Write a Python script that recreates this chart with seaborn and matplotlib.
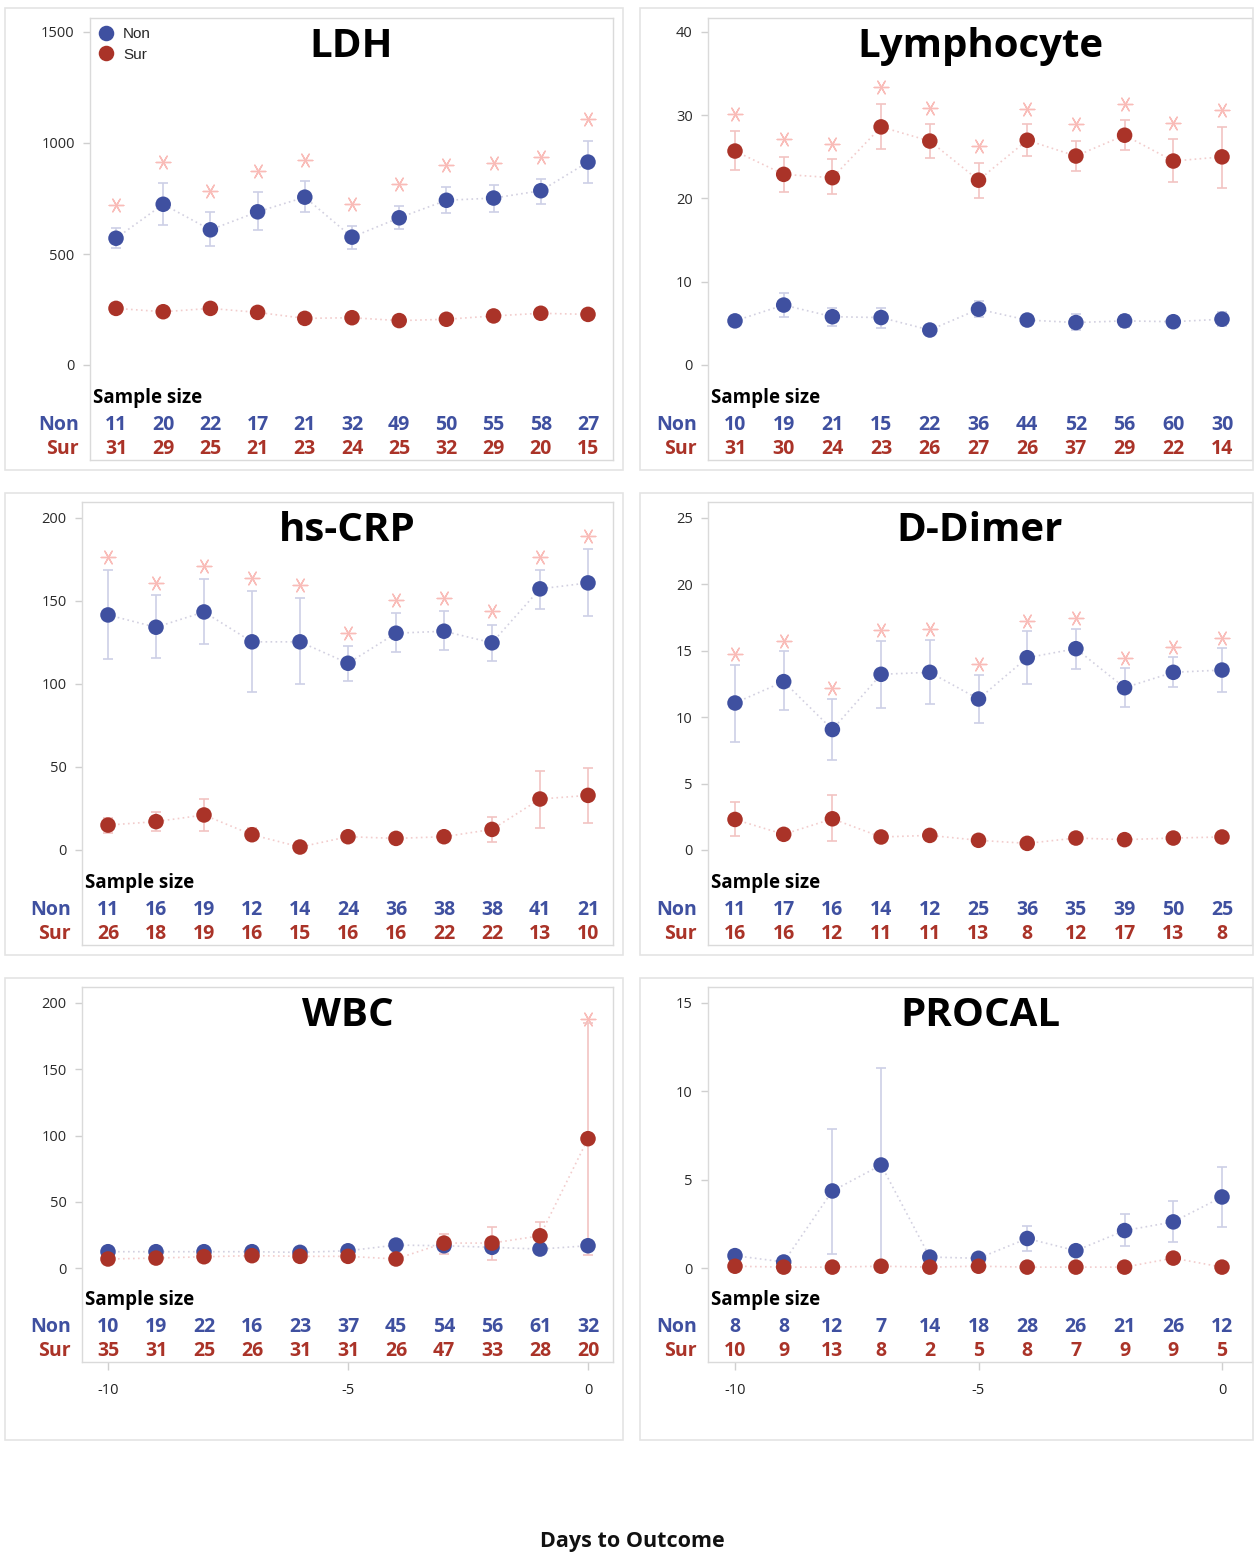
import matplotlib
matplotlib.use("Agg")
import matplotlib.pyplot as plt
from matplotlib.patches import Rectangle
import matplotlib.transforms as mtransforms
import numpy as np
import pandas as pd
import seaborn as sns

days = list(range(-10, 1))
nan = np.nan

# LDH
ldh_non = [571, 724, 609, 690, 756, 576, 663, 742, 752, 785, 914]
ldh_non_lo = [526, 631, 534, 606, 688, 523, 613, 684, 691, 727, 818]
ldh_non_hi = [619, 819, 688, 779, 827, 624, 716, 803, 810, 839, 1010]
ldh_sur = [255, 240, 255, 237, 210, 213, 200, 206, 221, 233, 228]
ldh_sur_lo = [240, 226, 240, 223, 197, 200, 188, 194, 208, 220, 214]
ldh_sur_hi = [270, 254, 270, 251, 223, 226, 212, 218, 234, 246, 242]
ldh_star = [721, 914, 786, 876, 924, 726, 816, 902, 909, 939, 1109]
ldh_n_non = [11, 20, 22, 17, 21, 32, 49, 50, 55, 58, 27]
ldh_n_sur = [31, 29, 25, 21, 23, 24, 25, 32, 29, 20, 15]

# Lymphocyte
lym_non = [5.3, 7.2, 5.8, 5.7, 4.2, 6.7, 5.4, 5.1, 5.3, 5.2, 5.5]
lym_non_lo = [4.7, 5.8, 4.7, 4.4, 3.7, 5.8, 4.8, 4.2, 4.6, 4.6, 4.7]
lym_non_hi = [5.9, 8.7, 6.9, 6.9, 4.7, 7.7, 6.0, 6.1, 6.0, 5.8, 6.4]
lym_sur = [25.7, 22.9, 22.5, 28.6, 26.9, 22.2, 27.0, 25.1, 27.6, 24.5, 25.0]
lym_sur_lo = [23.4, 20.8, 20.5, 26.0, 24.9, 20.1, 25.1, 23.3, 25.8, 22.0, 21.3]
lym_sur_hi = [28.1, 25.0, 24.7, 31.4, 28.9, 24.3, 28.9, 26.9, 29.4, 27.2, 28.6]
lym_star = [30.1, 27.1, 26.6, 33.4, 30.9, 26.3, 30.8, 28.9, 31.4, 29.1, 30.6]
lym_n_non = [10, 19, 21, 15, 22, 36, 44, 52, 56, 60, 30]
lym_n_sur = [31, 30, 24, 23, 26, 27, 26, 37, 29, 22, 14]

# hs-CRP
crp_non = [141.6, 134.2, 143.4, 125.4, 125.4, 112.5, 130.6, 131.8, 124.8, 157.3, 160.9]
crp_non_lo = [114.9, 115.5, 123.8, 95.3, 99.7, 102.1, 119.2, 120.2, 114.1, 145.0, 140.8]
crp_non_hi = [168.5, 153.5, 163.3, 155.9, 151.7, 123.0, 142.8, 143.8, 135.8, 168.7, 181.2]
crp_sur = [15.0, 17.1, 21.1, 9.2, 1.8, 8.0, 7.0, 8.0, 12.4, 30.7, 32.9]
crp_sur_lo = [10.4, 11.2, 11.2, 5.8, 0.5, 5.5, 4.5, 5.5, 5.0, 13.4, 16.4]
crp_sur_hi = [19.5, 22.9, 30.5, 13.4, 3.0, 10.5, 9.5, 10.5, 19.9, 47.5, 49.3]
crp_star = [176.3, 161.1, 171.1, 163.7, 159.5, 131.0, 150.5, 151.7, 143.8, 176.7, 189.2]
crp_n_non = [11, 16, 19, 12, 14, 24, 36, 38, 38, 41, 21]
crp_n_sur = [26, 18, 19, 16, 15, 16, 16, 22, 22, 13, 10]

# D-Dimer
dd_non = [11.07, 12.68, 9.07, 13.23, 13.38, 11.37, 14.48, 15.16, 12.22, 13.38, 13.55]
dd_non_lo = [8.14, 10.52, 6.74, 10.72, 10.97, 9.57, 12.53, 13.65, 10.77, 12.27, 11.87]
dd_non_hi = [13.95, 14.96, 11.40, 15.76, 15.83, 13.20, 16.48, 16.66, 13.73, 14.55, 15.18]
dd_sur = [2.30, 1.18, 2.35, 0.98, 1.10, 0.73, 0.50, 0.90, 0.78, 0.90, 0.98]
dd_sur_lo = [1.05, 0.90, 0.65, 0.80, 0.90, 0.55, 0.35, 0.70, 0.60, 0.70, 0.80]
dd_sur_hi = [3.58, 1.45, 4.11, 1.20, 1.30, 0.95, 0.65, 1.10, 0.95, 1.10, 1.20]
dd_star = [14.75, 15.73, 12.22, 16.53, 16.61, 13.98, 17.23, 17.46, 14.45, 15.28, 15.98]
dd_n_non = [11, 17, 16, 14, 12, 25, 36, 35, 39, 50, 25]
dd_n_sur = [16, 16, 12, 11, 11, 13, 8, 12, 17, 13, 8]

# WBC
wbc_non = [12.3, 12.3, 12.3, 12.3, 11.8, 13.0, 17.3, 16.8, 15.6, 14.3, 16.8]
wbc_non_lo = [10.5, 10.8, 10.8, 10.8, 10.3, 11.3, 15.3, 14.8, 13.6, 12.5, 14.5]
wbc_non_hi = [14.1, 13.8, 13.8, 13.8, 13.3, 14.7, 19.3, 18.8, 17.6, 16.1, 19.1]
wbc_sur = [6.8, 7.5, 8.5, 9.3, 8.8, 8.8, 6.8, 18.8, 18.8, 24.3, 97.6]
wbc_sur_lo = [5.5, 6.3, 7.0, 7.8, 7.4, 7.3, 5.6, 10.5, 6.3, 16.8, 10.0]
wbc_sur_hi = [8.1, 8.7, 10.0, 10.8, 10.2, 10.3, 8.0, 25.6, 31.1, 34.9, 185.0]
wbc_star = [nan, nan, nan, nan, nan, nan, nan, nan, nan, nan, 188]
wbc_n_non = [10, 19, 22, 16, 23, 37, 45, 54, 56, 61, 32]
wbc_n_sur = [35, 31, 25, 26, 31, 31, 26, 47, 33, 28, 20]

# PROCAL
pct_non = [0.70, 0.34, 4.36, 5.83, 0.62, 0.55, 1.67, 0.98, 2.12, 2.61, 4.02]
pct_non_lo = [0.55, 0.22, 0.81, 0.20, 0.48, 0.42, 0.98, 0.80, 1.22, 1.50, 2.31]
pct_non_hi = [0.85, 0.46, 7.89, 11.32, 0.76, 0.68, 2.39, 1.16, 3.05, 3.82, 5.73]
pct_sur = [0.10, 0.05, 0.05, 0.10, 0.05, 0.10, 0.05, 0.05, 0.05, 0.56, 0.05]
pct_sur_lo = [0.05, 0.02, 0.02, 0.05, 0.02, 0.05, 0.02, 0.02, 0.02, 0.30, 0.02]
pct_sur_hi = [0.15, 0.08, 0.08, 0.15, 0.08, 0.15, 0.08, 0.08, 0.08, 0.82, 0.08]
pct_star = [nan] * 11
pct_n_non = [8, 8, 12, 7, 14, 18, 28, 26, 21, 26, 12]
pct_n_sur = [10, 9, 13, 8, 2, 5, 8, 7, 9, 9, 5]

BLUE = "#3f50a0"
RED = "#aa3328"
BLUE_ERR = "#cdd0e6"
RED_ERR = "#f2c4c2"
BLUE_LINE = "#d2d0e0"
RED_LINE = "#f2cccc"
STAR = "#f9bcb8"

W, H = 1255, 1558

sns.set_theme(style="white")
plt.rcParams['font.family'] = ['Open Sans', 'DejaVu Sans']

fig = plt.figure(figsize=(W / 100, H / 100), dpi=100)
fig.patch.set_facecolor("white")


def draw_panel(title, outer, frame, y0px, ytoppx, ymax, ystep, xm10px, x0px,
               non, non_lo, non_hi, sur, sur_lo, sur_hi, star, n_non, n_sur,
               legend=False, xaxis=False):
    # outer light panel border
    ox0, oy0, ox1, oy1 = outer
    fig.patches.append(Rectangle((ox0 / W, 1 - oy1 / H), (ox1 - ox0) / W, (oy1 - oy0) / H,
                                 transform=fig.transFigure, fill=False,
                                 edgecolor="#e4e4e4", lw=1.2))
    fx0, fy0, fx1, fy1 = frame
    fw, fh = fx1 - fx0, fy1 - fy0
    ax = fig.add_axes([fx0 / W, 1 - fy1 / H, fw / W, fh / H])

    sy = (y0px - ytoppx) / ymax
    ax.set_ylim(-(fy1 - y0px) / sy, ymax + (ytoppx - fy0) / sy)
    sx = (x0px - xm10px) / 10
    ax.set_xlim(-10 - (xm10px - fx0) / sx, (fx1 - x0px) / sx)

    # dotted connecting lines
    sns.lineplot(x=days, y=non, ax=ax, color=BLUE_LINE, linestyle=(0, (1, 2)), lw=1.2)
    sns.lineplot(x=days, y=sur, ax=ax, color=RED_LINE, linestyle=(0, (1, 2)), lw=1.2)

    non_a, sur_a = np.array(non), np.array(sur)
    ax.errorbar(days, non_a, yerr=[non_a - np.array(non_lo), np.array(non_hi) - non_a],
                fmt="none", ecolor=BLUE_ERR, elinewidth=1.2, capsize=3.7, capthick=1.2)
    ax.errorbar(days, sur_a, yerr=[sur_a - np.array(sur_lo), np.array(sur_hi) - sur_a],
                fmt="none", ecolor=RED_ERR, elinewidth=1.2, capsize=3.7, capthick=1.2)

    sns.scatterplot(x=days, y=star, ax=ax, marker=(6, 2, 90), s=110,
                    color=STAR, linewidth=1.0, legend=False)

    df = pd.DataFrame({"day": days * 2, "value": list(non) + list(sur),
                       "group": ["Non"] * len(days) + ["Sur"] * len(days)})
    sns.scatterplot(data=df, x="day", y="value", hue="group",
                    palette={"Non": BLUE, "Sur": RED}, s=125, linewidth=0,
                    ax=ax, legend=legend, zorder=5)
    ax.set_xlabel("")
    ax.set_ylabel("")

    if legend:
        handles, labels = ax.get_legend_handles_labels()
        ax.legend(handles, labels, loc="upper left", bbox_to_anchor=(-0.02, 1.004),
                  frameon=False, prop={"family": "Liberation Sans", "size": 11},
                  handletextpad=0.15, labelspacing=0.45, borderaxespad=0.3,
                  markerscale=1.0)

    for sp in ax.spines.values():
        sp.set_color("#dadada")
        sp.set_linewidth(1.0)

    ax.set_yticks(np.arange(0, ymax + ystep / 2, ystep))
    ax.tick_params(axis="y", left=True, direction="out", length=5, width=1,
                   color="#cfcfcf", labelsize=10.5, labelcolor="#2a2a2a", pad=6)
    if xaxis:
        ax.set_xticks([-10, -5, 0])
        ax.set_xticklabels(["-10", "-5", "0"])
        ax.tick_params(axis="x", bottom=True, direction="out", length=6, width=1,
                       color="#cfcfcf", labelsize=10.5, labelcolor="#222222", pad=9)
    else:
        ax.set_xticks([])

    ax.text(0.5, 1 - 29 / fh, title, transform=ax.transAxes, ha="center", va="center",
            fontsize=29, fontweight="bold", color="black")

    trans = mtransforms.blended_transform_factory(ax.transData, ax.transAxes)
    ax.text(3 / fw, 62 / fh, "Sample size", transform=ax.transAxes, ha="left",
            va="center", fontsize=13.5, fontweight="bold", color="black")
    ax.text(-11 / fw, 35 / fh, "Non", transform=ax.transAxes, ha="right", va="center",
            fontsize=14, fontweight="bold", color=BLUE, clip_on=False)
    ax.text(-11 / fw, 11 / fh, "Sur", transform=ax.transAxes, ha="right", va="center",
            fontsize=14, fontweight="bold", color=RED, clip_on=False)
    for d, a, b in zip(days, n_non, n_sur):
        ax.text(d, 35 / fh, str(a), transform=trans, ha="center", va="center",
                fontsize=14, fontweight="bold", color=BLUE)
        ax.text(d, 11 / fh, str(b), transform=trans, ha="center", va="center",
                fontsize=14, fontweight="bold", color=RED)
    return ax


draw_panel("LDH", (5, 8, 623, 470), (90, 18, 613, 460), 365, 32, 1500, 500, 116, 588,
           ldh_non, ldh_non_lo, ldh_non_hi, ldh_sur, ldh_sur_lo, ldh_sur_hi, ldh_star,
           ldh_n_non, ldh_n_sur, legend=True)
draw_panel("Lymphocyte", (640, 8, 1253, 470), (708, 18, 1252, 460), 365, 32, 40, 10, 735, 1222,
           lym_non, lym_non_lo, lym_non_hi, lym_sur, lym_sur_lo, lym_sur_hi, lym_star,
           lym_n_non, lym_n_sur)
draw_panel("hs-CRP", (5, 493, 623, 955), (82, 502, 613, 945), 850, 518, 200, 50, 108, 588,
           crp_non, crp_non_lo, crp_non_hi, crp_sur, crp_sur_lo, crp_sur_hi, crp_star,
           crp_n_non, crp_n_sur)
draw_panel("D-Dimer", (640, 493, 1253, 955), (708, 502, 1252, 945), 850, 518, 25, 5, 735, 1222,
           dd_non, dd_non_lo, dd_non_hi, dd_sur, dd_sur_lo, dd_sur_hi, dd_star,
           dd_n_non, dd_n_sur)
draw_panel("WBC", (5, 978, 623, 1440), (82, 987, 613, 1362), 1268, 1003, 200, 50, 108, 588,
           wbc_non, wbc_non_lo, wbc_non_hi, wbc_sur, wbc_sur_lo, wbc_sur_hi, wbc_star,
           wbc_n_non, wbc_n_sur, xaxis=True)
draw_panel("PROCAL", (640, 978, 1253, 1440), (708, 987, 1252, 1362), 1268, 1003, 15, 5, 735, 1222,
           pct_non, pct_non_lo, pct_non_hi, pct_sur, pct_sur_lo, pct_sur_hi, pct_star,
           pct_n_non, pct_n_sur, xaxis=True)

fig.text(632 / W, 1 - 1542 / H, "Days to Outcome", ha="center", va="center",
         fontsize=15.5, fontweight="bold", color="#111111")

fig.savefig("out.png", dpi=100)
